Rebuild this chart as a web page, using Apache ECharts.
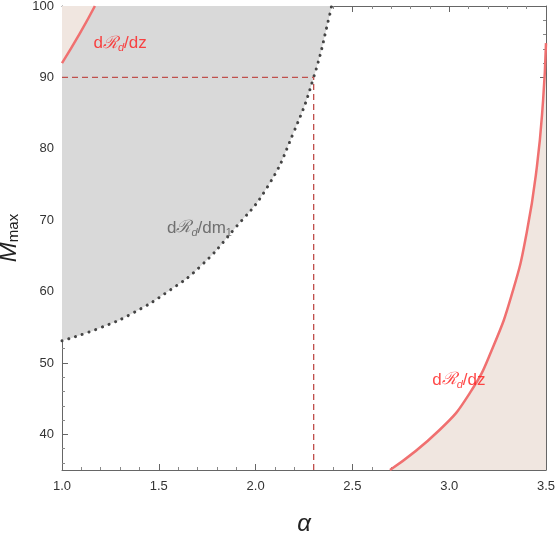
<!DOCTYPE html>
<html><head><meta charset="utf-8">
<script src="https://cdn.jsdelivr.net/npm/echarts@6/dist/echarts.min.js"></script>
<style>html,body{margin:0;padding:0;background:#fff}#c{width:556px;height:545px}</style>
</head><body><div id="c"></div>
<script>
const xTicks = [1.0, 1.5, 2.0, 2.5, 3.0, 3.5];
const yTicks = [40, 50, 60, 70, 80, 90, 100];
const grayCurve = [[1.0,53.1],[1.196,54.9],[1.367,57.0],[1.558,60.2],[1.71,63.4],[1.885,68.6],[2.06,74.6],[2.195,82.2],[2.30,90.0],[2.385,99.0],[2.392,100]];
const redTopCurve = [[1.0,92.0],[1.093,96.2],[1.17,100]];
const redRightCurve = [[2.694,35],[2.95,40.6],[3.107,45.8],[3.226,52.2],[3.33,60.2],[3.40,68.2],[3.453,77.5],[3.485,86.8],[3.5,94.8]];
const guideV = [[2.3,35],[2.3,90]];
const guideH = [[1.0,90],[2.3,90]];
const labels = [
  {pos:[1.30,94.8], kind:'red', sub:'dz'},
  {pos:[1.71,68.9], kind:'gray', sub:'dm'},
  {pos:[3.05,47.6], kind:'red', sub:'dz'}
];
const chart = echarts.init(document.getElementById('c'));
const axisCommon = {
  axisLine:{show:true,lineStyle:{color:'#666'}},
  axisTick:{show:true,inside:true,length:6,lineStyle:{color:'#666'}},
  minorTick:{show:true,splitNumber:5,length:3,lineStyle:{color:'#888'}},
  splitLine:{show:false}
};
const lblRich = (c)=>({
  a:{color:c,fontSize:17,fontFamily:'Liberation Sans'},
  r:{color:c,fontSize:17,fontStyle:'italic',fontFamily:'DejaVu Serif'},
  s:{color:c,fontSize:11,fontStyle:'italic',verticalAlign:'bottom',padding:[9,0,0,0]},
  n:{color:c,fontSize:11,verticalAlign:'bottom',padding:[9,0,0,0]}
});
chart.setOption({
  animation:false,
  grid:{left:62,right:10,top:6,bottom:75,containLabel:false,outerBoundsMode:'none'},
  xAxis:[
    Object.assign({type:'value',min:1,max:3.5,interval:0.5,position:'bottom',
      axisLabel:{color:'#333',fontSize:13,margin:10,formatter:v=>v.toFixed(1)},
      name:'α',nameLocation:'middle',nameGap:42,nameTextStyle:{fontSize:24,fontStyle:'italic',color:'#222'}},axisCommon),
    Object.assign({type:'value',min:1,max:3.5,interval:0.5,position:'top',axisLabel:{show:false}},axisCommon)
  ],
  yAxis:[
    Object.assign({type:'value',min:35,max:100,position:'left',
      axisLabel:{color:'#333',fontSize:13,showMinLabel:false},
      name:'{m|M}{s|max}',nameLocation:'middle',nameGap:38,
      nameTextStyle:{rich:{m:{fontSize:24,fontStyle:'italic',color:'#222'},s:{fontSize:15,color:'#222',padding:[10,0,0,0]}}}},axisCommon),
    Object.assign({type:'value',min:35,max:100,position:'right',axisLabel:{show:false}},axisCommon)
  ],
  series:[
    {type:'line',data:grayCurve,symbol:'none',smooth:true,z:2,
     lineStyle:{type:[0.1,7],color:'#444',width:3,cap:'round'},
     areaStyle:{origin:'end',color:'#d9d9d9',opacity:1}},
    {type:'line',data:redTopCurve,symbol:'none',smooth:true,z:3,
     lineStyle:{color:'#f07070',width:2.5},areaStyle:{origin:'end',color:'#f0e6e0',opacity:1}},
    {type:'line',data:redRightCurve,symbol:'none',smooth:true,z:3,
     lineStyle:{color:'#f07070',width:2.5},areaStyle:{origin:'start',color:'#f0e6e0',opacity:1}},
    {type:'line',data:guideV,symbol:'none',z:4,lineStyle:{type:[6,4],color:'#c0504d',width:1.3}},
    {type:'line',data:guideH,symbol:'none',z:4,lineStyle:{type:[6,4],color:'#c0504d',width:1.3}},
    {type:'scatter',symbolSize:0,z:5,
     data:labels.map(l=>({value:l.pos,label:{show:true,position:'inside',
       formatter: l.sub==='dz' ? '{a|d}{r|ℛ}{s|d}{a|/dz}' : '{a|d}{r|ℛ}{s|d}{a|/dm}{n|1}',
       rich: lblRich(l.kind==='red'?'#ff1a1a':'#555')}}))}
  ]
});
</script></body></html>
